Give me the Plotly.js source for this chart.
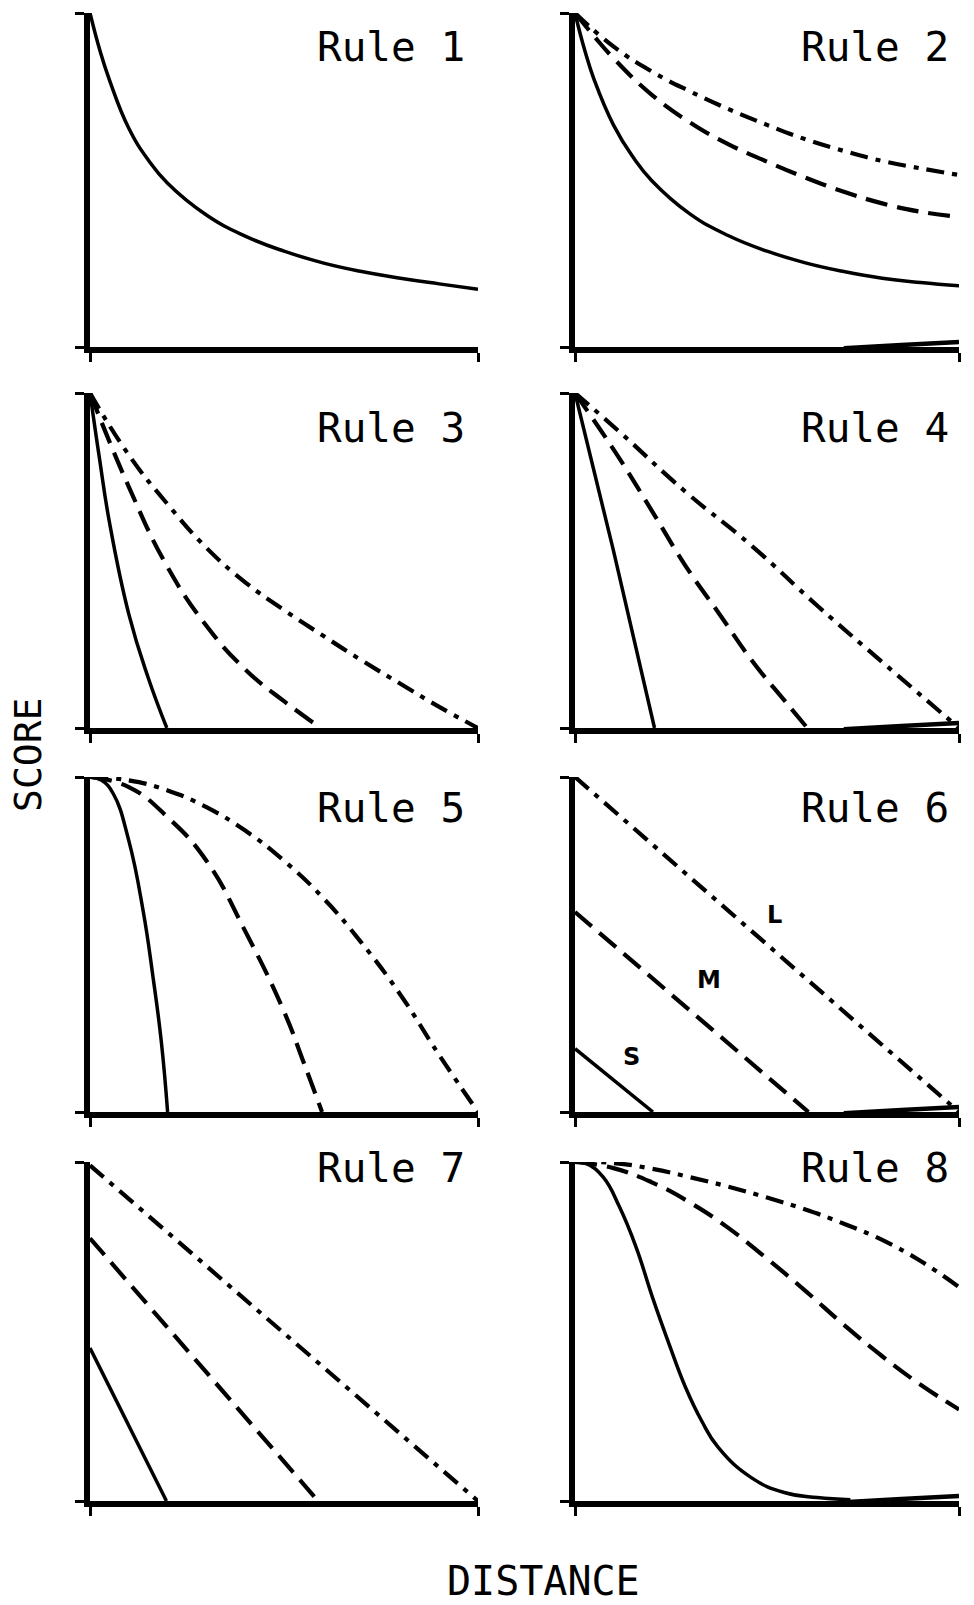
<!DOCTYPE html>
<html>
<head>
<meta charset="utf-8">
<script src="https://cdn.plot.ly/plotly-2.35.2.min.js"></script>
<style>
  html, body { margin: 0; padding: 0; background: #fff; }
  #chart { width: 974px; height: 1605px; }
</style>
</head>
<body>
<div id="chart"></div>
<script>
// Score vs. distance for eight scoring rules.
// S = short (solid), M = medium (dashed), L = long (dash-dot).

const ruleNames = ["Rule 1", "Rule 2", "Rule 3", "Rule 4", "Rule 5", "Rule 6", "Rule 7", "Rule 8"];
const sizeLabels = ["S", "M", "L"];

// Rule 1
const r1_x = [0, 0.025, 0.05, 0.1, 0.15, 0.2, 0.3, 0.4, 0.5, 0.6, 0.7, 0.8, 0.9, 1];
const r1_y = [1, 0.89, 0.80, 0.655, 0.56, 0.49, 0.395, 0.332, 0.287, 0.252, 0.226, 0.206, 0.189, 0.173];

// Rule 2
const r2S_x = [0, 0.025, 0.05, 0.1, 0.15, 0.2, 0.3, 0.4, 0.5, 0.6, 0.7, 0.8, 0.9, 1];
const r2S_y = [1, 0.89, 0.80, 0.665, 0.57, 0.498, 0.398, 0.333, 0.287, 0.252, 0.226, 0.206, 0.193, 0.183];
const r2M_x = [0, 0.05, 0.1, 0.2, 0.3, 0.4, 0.5, 0.6, 0.7, 0.8, 0.9, 1];
const r2M_y = [1, 0.93, 0.865, 0.755, 0.672, 0.607, 0.555, 0.507, 0.465, 0.43, 0.405, 0.39];
const r2L_x = [0, 0.1, 0.2, 0.3, 0.4, 0.5, 0.6, 0.7, 0.8, 0.9, 1];
const r2L_y = [1, 0.90, 0.825, 0.765, 0.712, 0.665, 0.622, 0.587, 0.557, 0.535, 0.515];

// Rule 3
const r3S_x = [0, 0.025, 0.05, 0.1, 0.15, 0.198];
const r3S_y = [1, 0.80, 0.615, 0.34, 0.15, 0];
const r3M_x = [0, 0.1, 0.2, 0.3, 0.4, 0.5, 0.595];
const r3M_y = [1, 0.72, 0.48, 0.305, 0.175, 0.08, 0];
const r3L_x = [0, 0.1, 0.2, 0.3, 0.4, 0.5, 0.6, 0.7, 0.8, 0.9, 1];
const r3L_y = [1, 0.815, 0.668, 0.538, 0.435, 0.352, 0.276, 0.202, 0.132, 0.063, 0];

// Rule 4
const r4S_x = [0, 0.1, 0.207];
const r4S_y = [1, 0.53, 0];
const r4M_x = [0, 0.116, 0.203, 0.289, 0.375, 0.461, 0.547, 0.605];
const r4M_y = [1, 0.804, 0.643, 0.482, 0.342, 0.201, 0.08, 0];
const r4L_x = [0, 0.116, 0.289, 0.461, 0.634, 0.806, 1];
const r4L_y = [1, 0.884, 0.704, 0.543, 0.362, 0.191, 0];

// Rule 5
const r5S_x = [0, 0.03, 0.06, 0.1, 0.137, 0.162, 0.184, 0.2];
const r5S_y = [1, 0.99, 0.95, 0.81, 0.60, 0.406, 0.208, 0];
const r5M_x = [0, 0.1, 0.2, 0.3, 0.4, 0.5, 0.55, 0.598];
const r5M_y = [1, 0.97, 0.88, 0.75, 0.54, 0.30, 0.15, 0];
const r5L_x = [0, 0.1, 0.2, 0.3, 0.4, 0.5, 0.6, 0.7, 0.8, 0.9, 1];
const r5L_y = [1, 0.99, 0.96, 0.91, 0.84, 0.75, 0.64, 0.505, 0.35, 0.17, 0];

// Rule 6
const r6S_x = [0, 0.203];
const r6S_y = [0.189, 0];
const r6M_x = [0, 0.608];
const r6M_y = [0.597, 0];
const r6L_x = [0, 1];
const r6L_y = [1, 0];
// label anchor points for S, M, L in Rule 6
const r6Lab_x = [0.148, 0.35, 0.52];
const r6Lab_y = [0.164, 0.393, 0.587];

// Rule 7
const r7S_x = [0, 0.197];
const r7S_y = [0.451, 0];
const r7M_x = [0, 0.588];
const r7M_y = [0.775, 0];
const r7L_x = [0, 1];
const r7L_y = [0.99, 0];

// Rule 8
const r8S_x = [0, 0.03, 0.073, 0.116, 0.159, 0.202, 0.245, 0.288, 0.33, 0.373, 0.459, 0.545, 0.631, 0.717];
const r8S_y = [1, 0.995, 0.956, 0.867, 0.749, 0.60, 0.463, 0.335, 0.236, 0.158, 0.069, 0.025, 0.01, 0.004];
const r8M_x = [0, 0.1, 0.2, 0.3, 0.4, 0.5, 0.6, 0.7, 0.8, 0.9, 1];
const r8M_y = [1, 0.982, 0.94, 0.88, 0.805, 0.715, 0.62, 0.52, 0.427, 0.343, 0.27];
const r8L_x = [0, 0.1, 0.2, 0.3, 0.4, 0.5, 0.6, 0.7, 0.8, 0.9, 1];
const r8L_y = [1, 0.997, 0.98, 0.955, 0.927, 0.895, 0.86, 0.818, 0.77, 0.708, 0.631];

// slight upturn of the zero line near the far end (right-hand panels)
const floor_x = [0.70, 0.85, 1];
const floor_y = [-0.004, 0.006, 0.015];

// ---- styling / layout ----
const W = 974, H = 1605;
const colBox = [[90, 478], [575, 959]];               // px, left/right edges
const rowBox = [[13, 347], [393, 728], [777, 1112], [1162, 1501]]; // px, top/bottom
const titleY = [47, 428, 808, 1168];                  // px, title centre per row
const titleRight = [467, 951];                        // px, title right edge per column

const STYLE = {
  S: { width: 3.5, dash: "solid" },
  M: { width: 4.2, dash: "22px,10px" },
  L: { width: 4.2, dash: "18px,8px,5px,8px" }
};

const curves = [
  [{ k: "S", x: r1_x, y: r1_y, spline: true }],
  [{ k: "S", x: r2S_x, y: r2S_y, spline: true }, { k: "M", x: r2M_x, y: r2M_y, spline: true }, { k: "L", x: r2L_x, y: r2L_y, spline: true }],
  [{ k: "S", x: r3S_x, y: r3S_y, spline: true }, { k: "M", x: r3M_x, y: r3M_y, spline: true }, { k: "L", x: r3L_x, y: r3L_y, spline: true }],
  [{ k: "S", x: r4S_x, y: r4S_y, spline: false }, { k: "M", x: r4M_x, y: r4M_y, spline: true }, { k: "L", x: r4L_x, y: r4L_y, spline: true }],
  [{ k: "S", x: r5S_x, y: r5S_y, spline: true }, { k: "M", x: r5M_x, y: r5M_y, spline: true }, { k: "L", x: r5L_x, y: r5L_y, spline: true }],
  [{ k: "S", x: r6S_x, y: r6S_y, spline: false }, { k: "M", x: r6M_x, y: r6M_y, spline: false }, { k: "L", x: r6L_x, y: r6L_y, spline: false }],
  [{ k: "S", x: r7S_x, y: r7S_y, spline: false }, { k: "M", x: r7M_x, y: r7M_y, spline: false }, { k: "L", x: r7L_x, y: r7L_y, spline: false }],
  [{ k: "S", x: r8S_x, y: r8S_y, spline: true }, { k: "M", x: r8M_x, y: r8M_y, spline: true }, { k: "L", x: r8L_x, y: r8L_y, spline: true }]
];

const data = [];
const layout = {
  width: W, height: H,
  margin: { l: 0, r: 0, t: 0, b: 0 },
  paper_bgcolor: "#fff", plot_bgcolor: "#fff",
  showlegend: false,
  annotations: []
};

const monoFamily = "DejaVu Sans Mono, Liberation Mono, monospace";
const labelFont = { family: monoFamily, size: 41, color: "#000" };

curves.forEach((set, i) => {
  const n = i + 1;
  const col = i % 2, row = Math.floor(i / 2);
  const xa = "x" + (n === 1 ? "" : n), ya = "y" + (n === 1 ? "" : n);
  const axBase = {
    range: [0, 1], showline: true, linewidth: 6, linecolor: "#000",
    ticks: "outside", tickvals: [0, 1], ticklen: 9, tickwidth: 3, tickcolor: "#000",
    showticklabels: false, showgrid: false, zeroline: false, fixedrange: true
  };
  layout["xaxis" + (n === 1 ? "" : n)] = Object.assign({}, axBase, {
    domain: [colBox[col][0] / W, colBox[col][1] / W], anchor: ya
  });
  layout["yaxis" + (n === 1 ? "" : n)] = Object.assign({}, axBase, {
    domain: [1 - rowBox[row][1] / H, 1 - rowBox[row][0] / H], anchor: xa
  });

  set.forEach(c => {
    data.push({
      type: "scatter", mode: "lines", x: c.x, y: c.y, xaxis: xa, yaxis: ya,
      line: { color: "#000", width: STYLE[c.k].width, dash: STYLE[c.k].dash,
              shape: c.spline ? "spline" : "linear", smoothing: 1.3 },
      hoverinfo: "skip"
    });
  });

  if (col === 1) {
    data.push({
      type: "scatter", mode: "lines", x: floor_x, y: floor_y, xaxis: xa, yaxis: ya,
      line: { color: "#000", width: 4.5, shape: "spline", smoothing: 1 }, hoverinfo: "skip"
    });
  }

  layout.annotations.push({
    text: ruleNames[i], xref: "paper", yref: "paper",
    x: titleRight[col] / W, y: 1 - titleY[row] / H,
    xanchor: "right", yanchor: "middle", showarrow: false, font: labelFont
  });
});

// S / M / L tags in Rule 6
sizeLabels.forEach((s, j) => {
  layout.annotations.push({
    text: "<b>" + s + "</b>", xref: "x6", yref: "y6",
    x: r6Lab_x[j], y: r6Lab_y[j], showarrow: false,
    font: { family: "DejaVu Sans, Liberation Sans, sans-serif", size: 24, color: "#000" }
  });
});

// shared axis titles
layout.annotations.push({
  text: "SCORE", xref: "paper", yref: "paper", x: 28 / W, y: 1 - 755 / H,
  textangle: -90, showarrow: false, xanchor: "center", yanchor: "middle",
  font: { family: monoFamily, size: 38, color: "#000" }
});
layout.annotations.push({
  text: "DISTANCE", xref: "paper", yref: "paper", x: 543 / W, y: 0,
  showarrow: false, xanchor: "center", yanchor: "bottom", borderpad: 0,
  font: { family: monoFamily, size: 40, color: "#000" }
});

Plotly.newPlot("chart", data, layout, { staticPlot: true, displayModeBar: false });
</script>
</body>
</html>
